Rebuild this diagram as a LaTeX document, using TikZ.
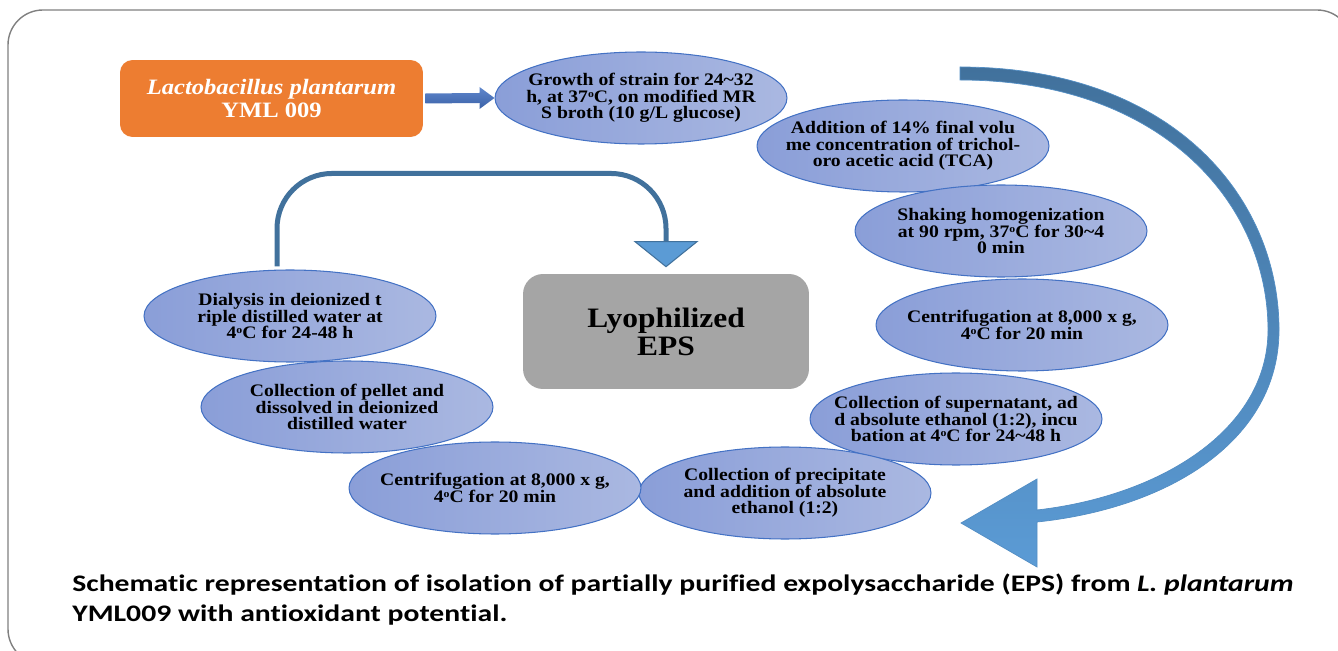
\documentclass[tikz,border=0pt]{standalone}
\usepackage{fontspec}
\setmainfont{Liberation Serif}[FakeStretch=1.12]
\newfontfamily\capfont{Carlito}[FakeStretch=1.25,Ligatures=NoCommon]
\usetikzlibrary{shapes.geometric,calc}

\definecolor{stepblue}{HTML}{4472C4}
\definecolor{elleft}{HTML}{8A9ED8}
\definecolor{elright}{HTML}{AAB8E1}
\definecolor{steel}{HTML}{41719C}
\definecolor{skyblue}{HTML}{5B9BD5}
\definecolor{strainorange}{HTML}{ED7D31}
\definecolor{boxgray}{HTML}{A5A5A5}

\tikzset{
	stage/.style={ellipse,draw=stepblue,line width=0.6pt,left color=elleft,right color=elright,
		minimum width=5.84cm,minimum height=1.84cm,inner sep=0pt},
	stagetext/.style={inner sep=0pt,align=center,font=\fontsize{10}{9.3}\selectfont\bfseries},
	strainbox/.style={rectangle,rounded corners=0.25cm,fill=strainorange,text=white,
		minimum width=6.06cm,minimum height=1.54cm,align=center,
		font=\fontsize{12.5}{13}\selectfont\bfseries},
	lyobox/.style={rectangle,rounded corners=0.4cm,fill=boxgray,
		minimum width=5.72cm,minimum height=2.3cm,align=center,
		font=\fontsize{16}{16}\selectfont\bfseries},
}

\newcommand{\dg}{\raisebox{0.6ex}[0pt][0pt]{\fontsize{6}{6}\selectfont o}}

\begin{document}
\begin{tikzpicture}[x=0.02cm,y=-0.02cm]

\useasboundingbox (0,0) rectangle (1338,651);

% frame
\begin{scope}
	\clip (0,0) rectangle (1338,651);
	\draw [gray,line width=0.8pt,rounded corners=0.7cm] (8,10) rectangle (1352,664);
\end{scope}

\node [strainbox] at (271.5,98.5) (strain) {\textit{Lactobacillus plantarum}\\YML 009};

% the stages, in order round the loop
\node [stage] at (641,98)   (growth)   {};
\node [stagetext] at (growth)   (growth-t)   {Growth of strain for 24\textasciitilde32\\h, at 37\dg C, on modified MR\\S broth (10 g/L glucose)};
\node [stage] at (903,146)  (tca)      {};
\node [stagetext] at (tca)      (tca-t)      {Addition of 14\% final volu\\me concentration of trichol-\\oro acetic acid (TCA)};
\node [stage] at (1001,231) (shake)    {};
\node [stagetext] at (shake)    (shake-t)    {Shaking homogenization\\at 90 rpm, 37\dg C for 30\textasciitilde4\\0 min};
\node [stage] at (1022,325) (centA)    {};
\node [stagetext] at (centA)    (centA-t)    {Centrifugation at 8,000 x g,\\4\dg C for 20 min};
\node [stage] at (956,419)  (super)    {};
\node [stagetext] at (super)    (super-t)    {Collection of supernatant, ad\\d absolute ethanol (1:2), incu\\bation at 4\dg C for 24\textasciitilde48 h};
\node [stage] at (785,493)  (precip)   {};
\node [stagetext] at (precip)   (precip-t)   {Collection of precipitate\\and addition of absolute\\ethanol (1:2)};
\node [stage] at (495,488)  (centB)    {};
\node [stagetext] at (centB)    (centB-t)    {Centrifugation at 8,000 x g,\\4\dg C for 20 min};
\node [stage] at (347,407)  (pellet)   {};
\node [stagetext] at (pellet)   (pellet-t)   {Collection of pellet and\\dissolved in deionized\\distilled water};
\node [stage] at (290,316)  (dialysis) {};
\node [stagetext] at (dialysis) (dialysis-t) {Dialysis in deionized t\\riple distilled water at\\4\dg C for 24-48 h};

\node [lyobox] at (666,331.5) (lyo) {Lyophilized\\EPS};

% strain -> growth
\shade [top color=stepblue!85!white,bottom color=stepblue!85!black]
	($(strain.east)+(2,-5)$) -- ($(growth.west)+(-15,-5)$) -- ($(growth.west)+(-15,-11)$)
	-- (growth.west) -- ($(growth.west)+(-15,11)$) -- ($(growth.west)+(-15,5)$)
	-- ($(strain.east)+(2,5)$) -- cycle;

% dialysis -> lyophilized
\coordinate (loopA) at ($(dialysis.north)+(-13,-3)$);
\draw [steel,line width=0.1cm,rounded corners=1.1cm] (loopA) -- ++(0,-93) -| ($(lyo.north)+(0,-30)$);
\filldraw [fill=skyblue,draw=steel,line width=0.6pt]
	($(lyo.north)+(-31,-32)$) -- ($(lyo.north)+(31,-32)$) -- ($(lyo.north)+(0,-7)$) -- cycle;

% big return arrow
\coordinate (arcS) at (960,67);
\coordinate (arcE) at (961,523);
\shade [top color=steel,bottom color=skyblue,draw=skyblue!70!steel,line width=0.4pt]
	(arcS) .. controls (1170,67) and (1279,195) .. (1279,330)
	.. controls (1279,440) and (1170,508) .. (1037,522)
	-- (1037,567) -- (arcE) -- (1037,479) -- (1037,510)
	.. controls (1160,496) and (1268,430) .. (1268,330)
	.. controls (1268,202) and (1160,80) .. (960,80) -- cycle;

\node [anchor=north west,inner sep=0pt,align=left,
	font=\capfont\bfseries\fontsize{13.5}{17}\selectfont] at (72,574) (caption)
	{Schematic representation of isolation of partially purified expolysaccharide (EPS) from \textit{L. plantarum}\\YML009 with antioxidant potential.};

\end{tikzpicture}
\end{document}
